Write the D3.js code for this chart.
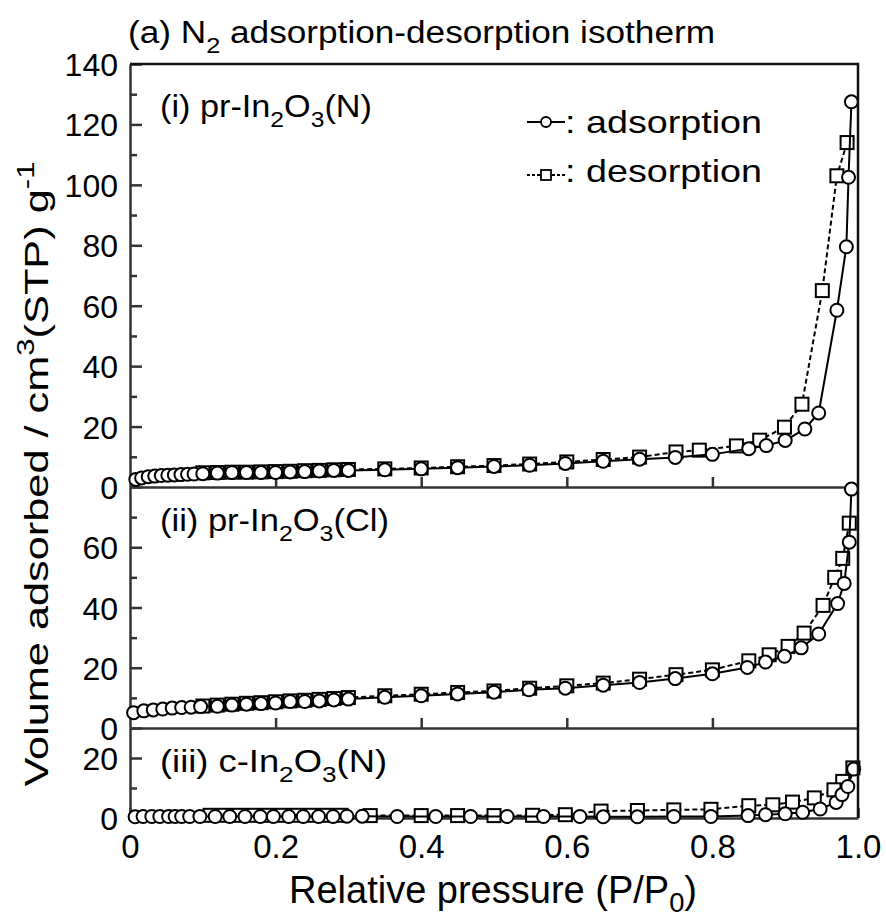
<!DOCTYPE html>
<html>
<head>
<meta charset="utf-8">
<script src="https://cdn.jsdelivr.net/npm/d3@7"></script>
<style>
  body { margin: 0; background: #fff; }
  text { font-family: "Liberation Sans", Arial, Helvetica, sans-serif; fill: #000; }
</style>
</head>
<body>
<svg id="chart" width="886" height="923"></svg>
<script>
// (i) pr-In2O3(N)
var pAdsI = [0.008,0.016,0.025,0.034,0.043,0.052,0.061,0.070,0.079,0.088,0.100,0.120,0.140,0.160,0.180,0.200,0.220,0.240,0.260,0.280,0.300,0.350,0.400,0.450,0.500,0.549,0.598,0.650,0.700,0.749,0.800,0.850,0.874,0.900,0.927,0.946,0.971,0.984,0.987,0.991];
var vAdsI = [2.5,3.0,3.4,3.6,3.8,3.9,4.0,4.1,4.2,4.3,4.4,4.6,4.8,4.8,4.8,4.8,5.0,5.1,5.3,5.5,5.5,5.7,6.0,6.4,6.8,7.2,7.8,8.5,9.2,9.8,10.8,12.7,13.7,15.4,19.2,24.5,58.5,79.5,102.5,127.5];
var pDesI = [0.985,0.971,0.951,0.923,0.899,0.865,0.833,0.782,0.750,0.700,0.650,0.600,0.549,0.500,0.450,0.400,0.350,0.300,0.280,0.260,0.240,0.220,0.200,0.180,0.160,0.140,0.120,0.100];
var vDesI = [114,103,65,27.4,19.8,15.5,13.6,12.2,11.6,9.9,9.1,8.3,7.6,7.1,6.7,6.3,6.0,5.8,5.7,5.5,5.4,5.2,5.1,5.0,4.9,4.9,4.8,4.7];

// (ii) pr-In2O3(Cl)
var pAdsII = [0.005,0.019,0.032,0.045,0.058,0.071,0.084,0.097,0.120,0.140,0.160,0.180,0.200,0.220,0.240,0.260,0.280,0.300,0.350,0.400,0.450,0.500,0.548,0.598,0.650,0.700,0.749,0.800,0.848,0.873,0.899,0.922,0.946,0.972,0.981,0.988,0.991];
var vAdsII = [5.1,5.7,6.0,6.3,6.6,6.8,6.9,7.1,7.2,7.6,7.9,8.1,8.3,8.8,8.8,9.0,9.3,9.6,10.2,10.7,11.3,11.9,12.7,13.2,14.2,15.1,16.4,18.0,20.1,21.9,23.8,26.6,31.2,41.3,48.0,61.7,79.3];
var pDesII = [0.988,0.979,0.968,0.952,0.926,0.904,0.878,0.850,0.800,0.750,0.700,0.650,0.600,0.549,0.500,0.450,0.400,0.350,0.300,0.280,0.260,0.240,0.220,0.200,0.180,0.160,0.140,0.120,0.100];
var vDesII = [68,56.3,50,40.7,31.5,27.1,24.3,22.3,19.3,17.7,16.2,14.9,14.0,13.2,12.3,11.8,11.2,10.7,10.1,9.8,9.5,9.2,9.0,8.7,8.4,8.2,7.9,7.6,7.3];

// (iii) c-In2O3(N)
var pAdsIII = [0.007,0.018,0.030,0.041,0.053,0.062,0.071,0.082,0.096,0.117,0.137,0.158,0.179,0.197,0.218,0.238,0.259,0.279,0.298,0.319,0.367,0.420,0.468,0.518,0.568,0.618,0.650,0.697,0.747,0.798,0.849,0.873,0.900,0.924,0.948,0.970,0.978,0.986,0.994];
var vAdsIII = [0.4,0.5,0.5,0.5,0.5,0.5,0.5,0.5,0.5,0.5,0.5,0.5,0.5,0.5,0.5,0.5,0.5,0.5,0.6,0.6,0.5,0.5,0.5,0.5,0.5,0.5,0.4,0.4,0.5,0.5,0.8,1.1,1.4,1.9,3.0,5.2,7.8,10.5,16.3];
var pDesIII = [0.993,0.979,0.967,0.940,0.910,0.883,0.850,0.798,0.747,0.697,0.647,0.598,0.553,0.500,0.450,0.400,0.330,0.290,0.270,0.250,0.230,0.210,0.190,0.170,0.150,0.130,0.110];
var vDesIII = [16.7,12.2,9.4,6.7,5.3,4.4,4.1,2.9,2.7,2.5,2.3,1.1,0.9,0.8,0.8,0.8,0.8,0.9,0.9,0.9,0.9,0.9,0.9,0.9,0.9,0.9,0.9];

var xTicks = [0, 0.2, 0.4, 0.6, 0.8, 1.0];

var svg = d3.select('#chart');
var left = 130, right = 858;
var x = d3.scaleLinear().domain([0, 1]).range([left, right]);
var axisColor = '#333';

var panels = [
  {label: [['(i) pr-In', ''], ['2', 'sub'], ['O', ''], ['3', 'sub'], ['(N)', '']],
   max: 140, top: 64, bottom: 487, majors: d3.range(0, 141, 20), minors: d3.range(10, 140, 20),
   ads: d3.zip(pAdsI, vAdsI), des: d3.zip(pDesI, vDesI), ly: 117, lw: 212},
  {label: [['(ii) pr-In', ''], ['2', 'sub'], ['O', ''], ['3', 'sub'], ['(Cl)', '']],
   max: 80, top: 487, bottom: 728, majors: [0, 20, 40, 60], minors: [10, 30, 50, 70],
   ads: d3.zip(pAdsII, vAdsII), des: d3.zip(pDesII, vDesII), ly: 531, lw: 229},
  {label: [['(iii) c-In', ''], ['2', 'sub'], ['O', ''], ['3', 'sub'], ['(N)', '']],
   max: 30, top: 728, bottom: 818, majors: [0, 20], minors: [10],
   ads: d3.zip(pAdsIII, vAdsIII), des: d3.zip(pDesIII, vDesIII), ly: 772, lw: 227}
];

// writes text with sub/superscript pieces
function richText(sel, parts, fs, len, subShift) {
  var shift = 0;
  parts.forEach(function(p) {
    var target = p[1] === 'sub' ? (subShift || 0.33) * fs : p[1] === 'sup' ? -0.4 * fs : 0;
    var t = sel.append('tspan').text(p[0]).attr('dy', target - shift);
    if (p[1]) t.attr('font-size', fs * 0.72);
    shift = target;
  });
  if (len) sel.attr('textLength', len).attr('lengthAdjust', 'spacingAndGlyphs');
  return sel;
}

panels.forEach(function(pn, i) {
  var y = d3.scaleLinear().domain([0, pn.max]).range([pn.bottom, pn.top]);
  var g = svg.append('g');

  // y axis
  var ya = g.append('g').attr('transform', 'translate(' + left + ',0)')
    .call(d3.axisLeft(y).tickValues(pn.majors).tickSizeInner(-12).tickSizeOuter(0).tickPadding(12)
      .tickFormat(d3.format('d')));
  ya.selectAll('text').attr('font-size', 32).attr('font-family', null).attr('dy', '0.36em');
  g.append('g').attr('transform', 'translate(' + left + ',0)')
    .call(d3.axisLeft(y).tickValues(pn.minors).tickSizeInner(-7).tickSizeOuter(0).tickFormat(''))
    .select('.domain').remove();

  // x axis at panel bottom
  var xa = g.append('g').attr('transform', 'translate(0,' + pn.bottom + ')');
  if (i === 2) {
    xa.call(d3.axisBottom(x).tickValues(xTicks).tickSizeInner(-10).tickSizeOuter(0).tickPadding(17)
      .tickFormat(function(d) { return d === 0 ? '0' : d.toFixed(1); }));
    xa.selectAll('text').attr('font-size', 33).attr('font-family', null);
  } else {
    xa.call(d3.axisBottom(x).tickValues(xTicks.slice(1, 5)).tickSizeInner(-10).tickSizeOuter(0).tickFormat(''));
  }
  g.selectAll('.domain, .tick line').attr('stroke', axisColor).attr('stroke-width', 2.5);

  // panel label
  richText(g.append('text').attr('x', 160).attr('y', pn.ly).attr('font-size', 31), pn.label, 31, pn.lw);

  var line = d3.line().x(function(d) { return x(d[0]); }).y(function(d) { return y(d[1]); });

  // desorption
  g.append('path').datum(pn.des).attr('d', line).attr('fill', 'none')
    .attr('stroke', '#000').attr('stroke-width', 2).attr('stroke-dasharray', '5,3');
  g.selectAll('rect.des').data(pn.des).enter().append('rect').attr('class', 'des')
    .attr('x', function(d) { return x(d[0]) - 6.5; }).attr('y', function(d) { return y(d[1]) - 6.5; })
    .attr('width', 13).attr('height', 13)
    .attr('fill', '#fff').attr('stroke', '#000').attr('stroke-width', 2);

  // adsorption
  g.append('path').datum(pn.ads).attr('d', line).attr('fill', 'none')
    .attr('stroke', '#000').attr('stroke-width', 2);
  g.selectAll('circle.ads').data(pn.ads).enter().append('circle').attr('class', 'ads')
    .attr('cx', function(d) { return x(d[0]); }).attr('cy', function(d) { return y(d[1]); })
    .attr('r', 6.5).attr('fill', '#fff').attr('stroke', '#000').attr('stroke-width', 2);
});

// frame: top and right
svg.append('path').attr('d', 'M' + left + ',64H' + right + 'V818')
  .attr('fill', 'none').attr('stroke', '#111').attr('stroke-width', 2.5);

// legend
var lg = svg.append('g');
lg.append('line').attr('x1', 527).attr('x2', 565).attr('y1', 122).attr('y2', 122).attr('stroke', '#000').attr('stroke-width', 2);
lg.append('circle').attr('cx', 546).attr('cy', 122).attr('r', 5).attr('fill', '#fff').attr('stroke', '#000').attr('stroke-width', 1.8);
lg.append('text').attr('x', 565).attr('y', 133).attr('font-size', 32)
  .attr('textLength', 197).attr('lengthAdjust', 'spacingAndGlyphs').text(': adsorption');
lg.append('line').attr('x1', 527).attr('x2', 565).attr('y1', 175).attr('y2', 175).attr('stroke', '#000').attr('stroke-width', 2).attr('stroke-dasharray', '3,2');
lg.append('rect').attr('x', 541).attr('y', 170).attr('width', 10).attr('height', 10).attr('fill', '#fff').attr('stroke', '#000').attr('stroke-width', 1.8);
lg.append('text').attr('x', 565).attr('y', 182).attr('font-size', 32)
  .attr('textLength', 197).attr('lengthAdjust', 'spacingAndGlyphs').text(': desorption');

// title
richText(svg.append('text').attr('x', 128).attr('y', 43).attr('font-size', 31),
  [['(a) N', ''], ['2', 'sub'], [' adsorption-desorption isotherm', '']], 31, 587);

// axis titles
richText(svg.append('text').attr('x', 493).attr('y', 903).attr('font-size', 38).attr('text-anchor', 'middle'),
  [['Relative pressure (P/P', ''], ['0', 'sub'], [')', '']], 38, null, 0.24);
richText(svg.append('text').attr('transform', 'translate(48,474) rotate(-90)').attr('font-size', 34).attr('text-anchor', 'middle'),
  [['Volume adsorbed / cm', ''], ['3', 'sup'], ['(STP) g', ''], ['-1', 'sup']], 34, 625);
</script>
</body>
</html>
